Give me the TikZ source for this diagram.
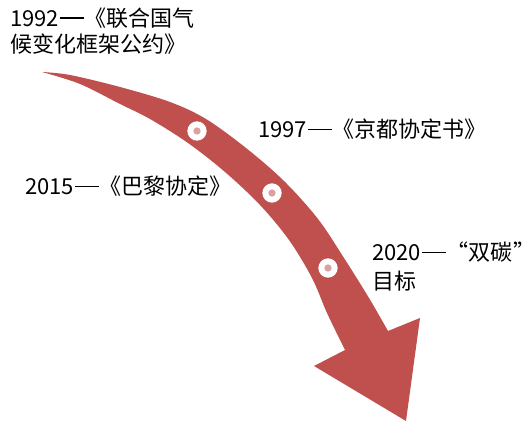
\documentclass[tikz,border=0pt]{standalone}
\usepackage{fontspec}
\setmainfont{Noto Sans CJK SC}
\newfontfamily\fwfont[RawFeature=+fwid]{Noto Sans CJK SC}
\newcommand{\fwd}{\hspace{0.06em}\rule[0.36em]{1.05em}{0.065em}\hspace{0.06em}}
\begin{document}
\begin{tikzpicture}[x=0.75pt,y=-0.75pt,
  arrowred/.style={fill=arrowfill},
  milestone/.style={circle,fill=white,inner sep=0pt,minimum size=14.5pt},
  dotcore/.style={circle,fill=dotpink,inner sep=0pt,minimum size=5.5pt},
  label/.style={anchor=base west,align=left,inner sep=0pt,text=black}]
\definecolor{arrowfill}{HTML}{C0504D}
\definecolor{dotpink}{HTML}{DBA1A0}
\useasboundingbox (0,0) rectangle (526,424);
\fill[arrowfill]
  plot[smooth,tension=0.55] coordinates {(42,72) (70,75) (120,87) (170,102) (206,119) (246,148) (284,181) (318,219) (344,258) (369,298) (388,331)}
  -- (420,318) -- (406,421) -- (314,366) -- (345,350)
  -- plot[smooth,tension=0.55] coordinates {(345,350) (327,313) (312,278) (289,240) (260,205) (225,172) (188,143) (150,119) (120,104) (80,84) (42,72)}
  -- cycle;
\foreach \n/\p in {m1/{(197,131)},m2/{(272,193)},m3/{(328,268)}}{
  \node[milestone] (\n) at \p {};
  \node[dotcore] (\n c) at (\n) {};
}
\node[label,font=\fontsize{16.5pt}{19.9pt}\selectfont] (t1) at (10,53) {1992\fwd《联合国气\\候变化框架公约》};
\node[label,font=\fontsize{16.5pt}{19.9pt}\selectfont] (t2) at (258,138) {1997\fwd《京都协定书》};
\node[label,font=\fontsize{16.5pt}{19.9pt}\selectfont] (t3) at (25,195) {2015\fwd《巴黎协定》};
\node[label,font=\fontsize{16.5pt}{21.75pt}\selectfont] (t4) at (372,290) {2020\fwd{\fwfont “}双碳\hspace{0.04em}\rlap{”}\\目标};
\end{tikzpicture}
\end{document}
